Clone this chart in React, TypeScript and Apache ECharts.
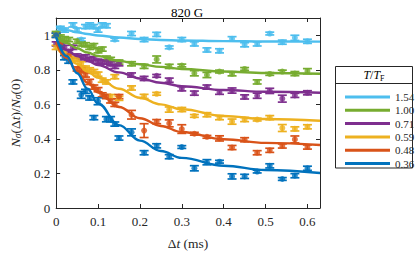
import React, { useEffect, useRef } from "react";
import * as echarts from "echarts";

// ---- data ----
const seriesNames = ["1.54", "1.00", "0.71", "0.59", "0.48", "0.36"];
const colors = ["#4DBEEE", "#77AC30", "#7E2F8E", "#EDB120", "#D95319", "#0072BD"];

// measured points: times (ms) and normalised populations
const tLightBlue = [0, 0.01, 0.02, 0.04, 0.05, 0.06, 0.07, 0.08, 0.09, 0.1, 0.11, 0.12, 0.14, 0.18, 0.21, 0.24, 0.27, 0.3, 0.33, 0.36, 0.39, 0.42, 0.45, 0.48, 0.51, 0.54, 0.57, 0.6];
const vLightBlue = [1.0, 1.04, 1.03, 1.06, 1.03, 0.975, 1.05, 1.06, 1.05, 1.03, 1.06, 1.055, 0.975, 1.01, 0.975, 1.005, 0.93, 0.975, 0.95, 0.915, 0.91, 0.98, 0.945, 0.95, 1.01, 0.96, 0.985, 0.965];
const eLightBlue = [0.012, 0.012, 0.012, 0.012, 0.012, 0.008, 0.012, 0.012, 0.012, 0.012, 0.012, 0.012, 0.008, 0.012, 0.012, 0.012, 0.008, 0.012, 0.012, 0.012, 0.012, 0.012, 0.012, 0.012, 0.008, 0.012, 0.015, 0.012];

const tGreen = [0, 0.01, 0.02, 0.03, 0.05, 0.06, 0.07, 0.08, 0.09, 0.1, 0.11, 0.12, 0.13, 0.15, 0.18, 0.21, 0.24, 0.27, 0.3, 0.33, 0.36, 0.39, 0.42, 0.45, 0.48, 0.51, 0.54, 0.57, 0.6];
const vGreen = [1.01, 0.99, 0.98, 0.975, 0.965, 0.95, 0.945, 0.93, 0.94, 0.91, 0.92, 0.865, 0.86, 0.845, 0.835, 0.82, 0.86, 0.82, 0.825, 0.78, 0.77, 0.79, 0.777, 0.805, 0.73, 0.776, 0.79, 0.778, 0.792];
const eGreen = [0.012, 0.012, 0.012, 0.012, 0.012, 0.012, 0.012, 0.012, 0.012, 0.012, 0.012, 0.015, 0.012, 0.012, 0.012, 0.012, 0.02, 0.012, 0.008, 0.015, 0.015, 0.008, 0.012, 0.008, 0.012, 0.008, 0.008, 0.012, 0.015];

const tPurple = [0, 0.01, 0.02, 0.03, 0.04, 0.05, 0.06, 0.07, 0.08, 0.09, 0.1, 0.11, 0.12, 0.13, 0.14, 0.15, 0.18, 0.21, 0.24, 0.27, 0.3, 0.33, 0.36, 0.39, 0.42, 0.45, 0.48, 0.51, 0.54, 0.57, 0.6];
const vPurple = [0.95, 0.94, 0.93, 0.9, 0.93, 0.88, 0.87, 0.875, 0.86, 0.865, 0.85, 0.845, 0.845, 0.835, 0.82, 0.835, 0.77, 0.75, 0.765, 0.74, 0.69, 0.665, 0.7, 0.67, 0.68, 0.643, 0.65, 0.678, 0.633, 0.652, 0.667];
const ePurple = [0.012, 0.012, 0.012, 0.012, 0.012, 0.012, 0.012, 0.012, 0.012, 0.012, 0.012, 0.012, 0.012, 0.012, 0.012, 0.012, 0.012, 0.012, 0.008, 0.012, 0.012, 0.012, 0.012, 0.012, 0.015, 0.012, 0.015, 0.015, 0.02, 0.012, 0.012];

const tYellow = [0, 0.02, 0.03, 0.04, 0.05, 0.06, 0.07, 0.08, 0.09, 0.1, 0.11, 0.12, 0.13, 0.14, 0.15, 0.18, 0.21, 0.24, 0.27, 0.3, 0.33, 0.36, 0.39, 0.42, 0.45, 0.48, 0.51, 0.54, 0.57, 0.6];
const vYellow = [0.93, 0.9, 0.88, 0.865, 0.86, 0.835, 0.81, 0.8, 0.79, 0.775, 0.74, 0.73, 0.645, 0.76, 0.635, 0.695, 0.646, 0.661, 0.57, 0.57, 0.533, 0.54, 0.523, 0.5, 0.512, 0.512, 0.523, 0.463, 0.458, 0.47];
const eYellow = [0.012, 0.012, 0.012, 0.012, 0.012, 0.012, 0.012, 0.012, 0.012, 0.012, 0.012, 0.012, 0.012, 0.012, 0.012, 0.012, 0.012, 0.008, 0.015, 0.012, 0.008, 0.012, 0.012, 0.015, 0.012, 0.008, 0.012, 0.02, 0.012, 0.012];

const tOrange = [0, 0.01, 0.03, 0.05, 0.06, 0.07, 0.08, 0.09, 0.1, 0.11, 0.12, 0.13, 0.14, 0.15, 0.18, 0.21, 0.24, 0.27, 0.3, 0.33, 0.36, 0.39, 0.42, 0.45, 0.48, 0.51, 0.54, 0.57, 0.6];
const vOrange = [1.0, 0.95, 0.88, 0.805, 0.8, 0.77, 0.73, 0.7, 0.685, 0.655, 0.645, 0.62, 0.6, 0.645, 0.54, 0.448, 0.5, 0.49, 0.457, 0.43, 0.412, 0.403, 0.35, 0.395, 0.32, 0.334, 0.359, 0.397, 0.353];
const eOrange = [0.012, 0.012, 0.012, 0.012, 0.012, 0.012, 0.015, 0.012, 0.012, 0.012, 0.012, 0.012, 0.012, 0.012, 0.025, 0.04, 0.012, 0.02, 0.025, 0.008, 0.008, 0.015, 0.012, 0.012, 0.012, 0.012, 0.012, 0.02, 0.012];

const tBlue = [0, 0.01, 0.02, 0.03, 0.04, 0.06, 0.07, 0.08, 0.09, 0.1, 0.12, 0.13, 0.14, 0.15, 0.18, 0.21, 0.24, 0.27, 0.3, 0.33, 0.36, 0.39, 0.42, 0.45, 0.48, 0.51, 0.54, 0.57, 0.6];
const vBlue = [1.0, 0.93, 0.87, 0.85, 0.73, 0.655, 0.675, 0.637, 0.523, 0.618, 0.514, 0.514, 0.486, 0.405, 0.438, 0.32, 0.36, 0.297, 0.353, 0.23, 0.265, 0.268, 0.183, 0.183, 0.211, 0.244, 0.168, 0.187, 0.23];
const eBlue = [0.012, 0.012, 0.012, 0.012, 0.012, 0.02, 0.012, 0.012, 0.012, 0.02, 0.015, 0.015, 0.012, 0.012, 0.02, 0.012, 0.012, 0.012, 0.008, 0.015, 0.015, 0.008, 0.015, 0.012, 0.008, 0.012, 0.008, 0.012, 0.012];

// fitted curves, read at these times
const fitT = [0, 0.025, 0.05, 0.075, 0.1, 0.15, 0.2, 0.25, 0.3, 0.4, 0.5, 0.63];
const fitLightBlue = [1.045, 1.03, 1.017, 1.007, 0.999, 0.987, 0.978, 0.973, 0.97, 0.966, 0.964, 0.963];
const fitGreen = [0.99, 0.955, 0.925, 0.9, 0.88, 0.852, 0.832, 0.817, 0.805, 0.79, 0.782, 0.777];
const fitPurple = [0.955, 0.915, 0.88, 0.852, 0.828, 0.785, 0.75, 0.725, 0.705, 0.683, 0.673, 0.667];
const fitYellow = [0.935, 0.88, 0.835, 0.79, 0.755, 0.69, 0.638, 0.6, 0.572, 0.533, 0.515, 0.505];
const fitOrange = [0.96, 0.87, 0.79, 0.725, 0.67, 0.585, 0.52, 0.475, 0.44, 0.398, 0.377, 0.365];
const fitBlue = [0.99, 0.88, 0.78, 0.69, 0.605, 0.48, 0.39, 0.33, 0.29, 0.245, 0.22, 0.203];

const FONT = "'Liberation Serif', 'DejaVu Serif', serif";
const INK = "#262626";

export default function App() {
  const ref = useRef<HTMLDivElement>(null);
  useEffect(() => {
    if (!ref.current) return;
    const chart = echarts.init(ref.current, undefined, { renderer: "svg" });

    const groups = [
      { t: tLightBlue, v: vLightBlue, e: eLightBlue, fit: fitLightBlue },
      { t: tGreen, v: vGreen, e: eGreen, fit: fitGreen },
      { t: tPurple, v: vPurple, e: ePurple, fit: fitPurple },
      { t: tYellow, v: vYellow, e: eYellow, fit: fitYellow },
      { t: tOrange, v: vOrange, e: eOrange, fit: fitOrange },
      { t: tBlue, v: vBlue, e: eBlue, fit: fitBlue },
    ];

    const series: any[] = [];
    groups.forEach((g, i) => {
      const color = colors[i];
      const pts = g.t.map((t, k) => [t, g.v[k], g.e[k]]);
      series.push({
        name: seriesNames[i] + " err",
        type: "custom",
        xAxisIndex: 0,
        yAxisIndex: 0,
        data: pts,
        z: 2,
        renderItem: (params: any, api: any) => {
          const t = api.value(0), v = api.value(1), e = api.value(2);
          const top = api.coord([t, v + e]);
          const bot = api.coord([t, v - e]);
          const hw = 4.5;
          const st = { stroke: color, lineWidth: 1.7 };
          return {
            type: "group",
            children: [
              { type: "line", shape: { x1: top[0], y1: top[1], x2: bot[0], y2: bot[1] }, style: st },
              { type: "line", shape: { x1: top[0] - hw, y1: top[1], x2: top[0] + hw, y2: top[1] }, style: st },
              { type: "line", shape: { x1: bot[0] - hw, y1: bot[1], x2: bot[0] + hw, y2: bot[1] }, style: st },
            ],
          };
        },
      });
      series.push({
        name: seriesNames[i] + " pts",
        type: "scatter",
        xAxisIndex: 0,
        yAxisIndex: 0,
        data: pts.map((p) => [p[0], p[1]]),
        symbol: "circle",
        symbolSize: 6,
        itemStyle: { color },
        z: 3,
      });
    });
    groups.forEach((g, i) => {
      series.push({
        name: seriesNames[i],
        type: "line",
        xAxisIndex: 0,
        yAxisIndex: 0,
        data: fitT.map((t, k) => [t, g.fit[k]]),
        smooth: 0.4,
        smoothMonotone: "x",
        showSymbol: false,
        symbol: "none",
        lineStyle: { color: colors[i], width: 2.4 },
        itemStyle: { color: colors[i] },
        z: 4,
      });
    });

    const richBase = {
      n: { fontFamily: FONT, fontSize: 13.5, color: INK, lineHeight: 16 },
      i: { fontFamily: FONT, fontSize: 13.5, fontStyle: "italic", color: INK, lineHeight: 16 },
      s: { fontFamily: FONT, fontSize: 9.5, fontStyle: "italic", color: INK, verticalAlign: "bottom", lineHeight: 10 },
    };

    const xLabel = (v: number) => {
      if (v > 0.615) return "";
      return v === 0 ? "0" : v.toFixed(1);
    };
    const yLabel = (v: number) => {
      if (v > 1.05) return "";
      if (v === 0) return "0";
      if (Math.abs(v - 1) < 1e-9) return "1";
      return v.toFixed(1);
    };

    const axisCommon = {
      type: "value",
      axisLine: { show: true, onZero: false, lineStyle: { color: INK, width: 1 } },
      axisTick: { show: true, inside: true, length: 4, lineStyle: { color: INK, width: 1 } },
      splitLine: { show: false },
    };

    chart.setOption({
      animation: false,
      backgroundColor: "#ffffff",
      title: {
        text: "820 G",
        left: 182,
        top: 1,
        textAlign: "center",
        textStyle: { fontFamily: FONT, fontSize: 13, fontWeight: "normal", color: "#000" },
      },
      grid: { left: 44, right: 95, top: 18, bottom: 41, containLabel: false },
      xAxis: [
        {
          ...axisCommon,
          position: "bottom",
          min: 0,
          max: 0.63,
          interval: 0.1,
          axisLabel: { formatter: xLabel, color: INK, fontFamily: FONT, fontSize: 13, margin: 7 },
          name: "{n|Δ}{i|t}{n| (ms)}",
          nameLocation: "middle",
          nameGap: 27,
          nameTextStyle: { rich: richBase },
        },
        {
          ...axisCommon,
          position: "top",
          min: 0,
          max: 0.63,
          interval: 0.1,
          axisLabel: { show: false },
        },
      ],
      yAxis: [
        {
          ...axisCommon,
          position: "left",
          min: 0,
          max: 1.1,
          interval: 0.2,
          axisLabel: { formatter: yLabel, color: INK, fontFamily: FONT, fontSize: 13, margin: 6 },
          name: "{i|N}{s|σ}{n|(Δ}{i|t}{n|)/}{i|N}{s|σ}{n|(0)}",
          nameLocation: "middle",
          nameGap: 31,
          nameRotate: 90,
          nameTextStyle: { rich: richBase },
        },
        {
          ...axisCommon,
          position: "right",
          min: 0,
          max: 1.1,
          interval: 0.2,
          axisLabel: { show: false },
        },
      ],
      legend: {
        orient: "vertical",
        left: 340,
        top: 86,
        itemWidth: 45,
        itemHeight: 3,
        itemGap: 1.3,
        icon: "rect",
        selectedMode: false,
        data: seriesNames,
        textStyle: { fontFamily: FONT, fontSize: 11, color: INK, lineHeight: 12 },
      },
      graphic: [
        {
          type: "rect",
          shape: { x: 335.5, y: 66.5, width: 77, height: 101.5 },
          style: { fill: "none", stroke: INK, lineWidth: 1 },
          z: 0,
        },
        {
          type: "line",
          shape: { x1: 335.5, y1: 83.5, x2: 412.5, y2: 83.5 },
          style: { stroke: INK, lineWidth: 1 },
        },
        {
          type: "text",
          x: 374,
          y: 75,
          style: {
            text: "{i|T}{n|/}{i|T}{sr|F}",
            align: "center",
            verticalAlign: "middle",
            rich: {
              n: { fontFamily: FONT, fontSize: 12, color: INK, lineHeight: 14 },
              i: { fontFamily: FONT, fontSize: 12, fontStyle: "italic", color: INK, lineHeight: 14 },
              sr: { fontFamily: FONT, fontSize: 8, color: INK, verticalAlign: "bottom", lineHeight: 9 },
            },
          },
        },
      ],
      series,
    });
    return () => chart.dispose();
  }, []);
  return <div ref={ref} style={{ width: 415, height: 255, position: "absolute", left: 0, top: 0 }} />;
}
